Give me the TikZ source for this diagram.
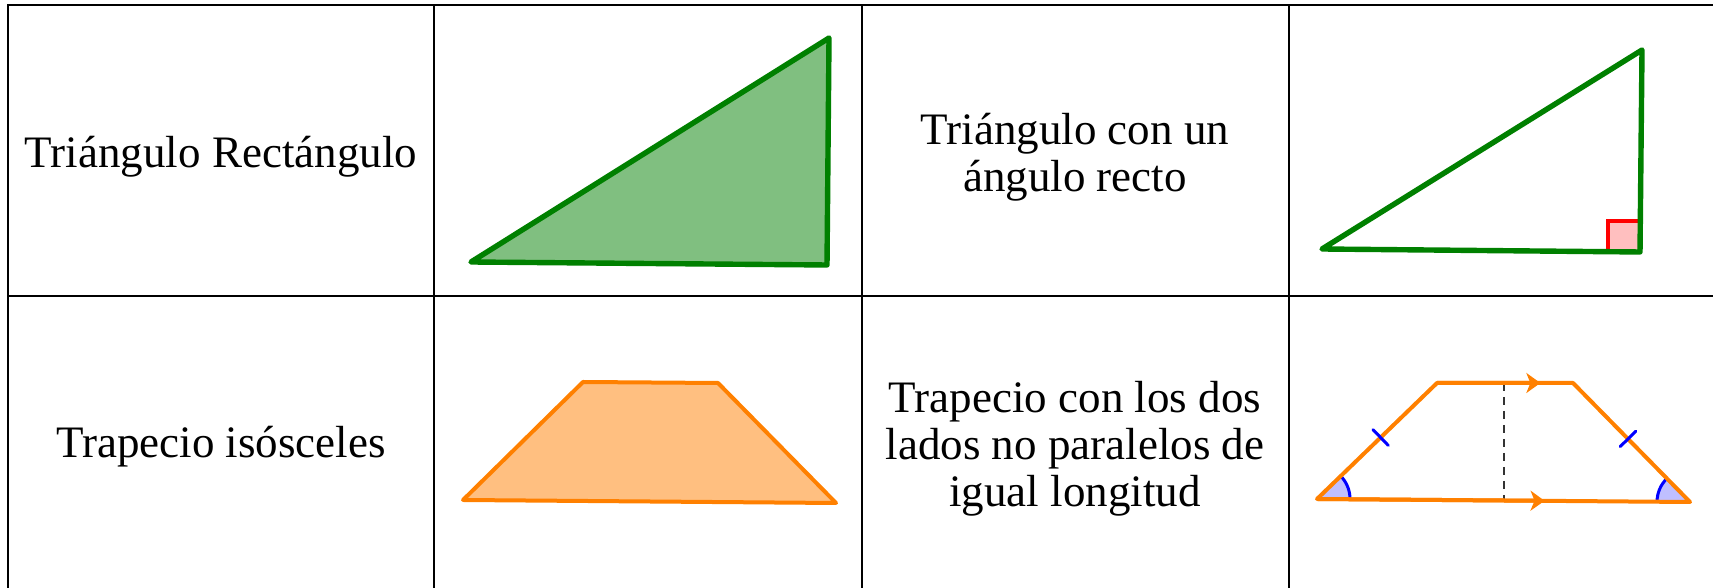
\documentclass[tikz,border=0pt]{standalone}
\usepackage{fontspec}
\setmainfont{Liberation Serif}
\usetikzlibrary{arrows.meta,angles,calc}

\tikzset{
	celltext/.style={font=\fontsize{22.5}{23.5}\selectfont, align=center, inner sep=0pt},
	tablerule/.style={line width=1.3pt},
	greenside/.style={draw=green!50!black, line width=2.7pt, line join=round},
	orangeside/.style={draw=orange, line width=2pt, line join=round},
	bluemark/.style={draw=blue, line width=1.5pt, line cap=round},
}

\begin{document}
\begin{tikzpicture}[x=0.5pt,y=0.5pt]
		\useasboundingbox (0,0) rectangle (1713,588);
		% table
		\draw[tablerule] (1713,583) -- (8,583) -- (8,0);
		\draw[tablerule] (8,292) -- (1713,292);
		\foreach \x in {434, 862, 1289}
			\draw[tablerule] (\x,583) -- (\x,0);
		% texts
		\node[celltext, anchor=base] (recto) at (221,420) {Triángulo Rectángulo};
		\node[celltext] (defrecto) at (1075,431) {Triángulo con un\\ángulo recto};
		\node[celltext, anchor=base] (isosceles) at (221,130) {Trapecio isósceles};
		\node[celltext] (defisosceles) at (1075,139) {Trapecio con los dos\\lados no paralelos de\\igual longitud};
		% right triangles
		\filldraw[greenside, fill=green!50!black!50] (471,326) -- (829,550) -- (827,323) -- cycle;
		\fill[red!25] (1608,337) rectangle (1640,367);
		\draw[red, line width=2pt] (1608,337) -- (1608,367) -- (1640,367);
		\draw[greenside] (1322,339) -- (1642,538) -- (1640,336) -- cycle;
		% isosceles trapezoids
		\filldraw[orangeside, fill=orange!50] (463,88) -- (583,206) -- (718,205) -- (836,85) -- cycle;
		\coordinate (A) at (1317,89);
		\coordinate (B) at (1437,205);
		\coordinate (C) at (1573,205);
		\coordinate (D) at (1690,86);
		\pic[draw=blue, fill=blue!25, line width=1.5pt, angle radius=16.5pt] {angle=D--A--B};
		\pic[draw=blue, fill=blue!25, line width=1.5pt, angle radius=16.5pt] {angle=C--D--A};
		\draw[dashed, black!80, line width=0.6pt, dash pattern=on 4pt off 3pt] (1504,205) -- (1504,88);
		\draw[orangeside] (A) -- (B) -- (C) -- (D) -- cycle;
		\draw[orangeside, -{Stealth[length=7pt,width=10pt,inset=2pt]}] (B) -- ($(B)!0.76!(C)$);
		\draw[orangeside, -{Stealth[length=7pt,width=10pt,inset=2pt]}] (A) -- ($(A)!0.61!(D)$);
		\foreach \p/\q in {A/B, D/C} {
			\coordinate (m\p) at ($(\p)!0.53!(\q)$);
			\draw[bluemark] ($(m\p)!5.5pt!90:(\q)$) -- ($(m\p)!5.5pt!-90:(\q)$);
		}
	\end{tikzpicture}
\end{document}
